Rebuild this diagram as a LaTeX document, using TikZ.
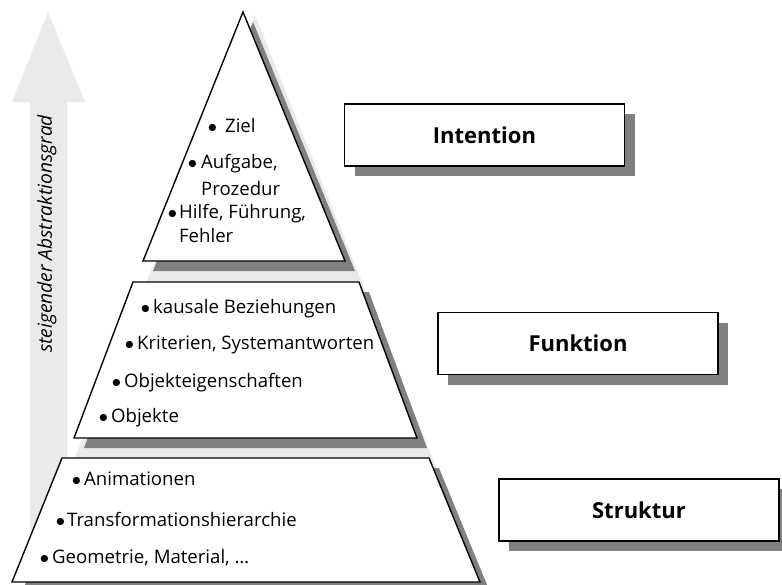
\documentclass[tikz,border=0pt]{standalone}
\usepackage{fontspec}
\setmainfont{Open Sans}
\usetikzlibrary{shadows}
\definecolor{paleGray}{HTML}{EAEAEA}
\definecolor{shadeGray}{HTML}{808080}
\newcommand\bul{$\bullet$}
\begin{document}
\begin{tikzpicture}[x=0.5pt,y=-0.5pt,
  dropgray/.style={drop shadow={shadow xshift=5pt,shadow yshift=-5pt,fill=shadeGray,opacity=1}},
  layer/.style={draw=black,fill=white,line width=0.7pt,dropgray},
  item/.style={anchor=base west,inner sep=0pt,align=left,font=\fontsize{9.3}{13}\selectfont},
  level/.style={draw=black,fill=white,line width=0.7pt,minimum width=140pt,minimum height=31pt,
    font=\fontsize{11}{13}\selectfont\bfseries,dropgray}]
\useasboundingbox (0,0) rectangle (782,584);
% Arrow on the left
\fill[paleGray] (30,584) -- (30,102) -- (12,102) -- (48,12) -- (85,102) -- (67,102) -- (67,584) -- cycle;
\node[rotate=90,font=\fontsize{9.6}{11}\selectfont\itshape] (abstr) at (47,234) {steigender Abstraktionsgrad};
% Pyramid behind the layers
\fill[paleGray] (255,15) -- (482,582) -- (24,582) -- cycle;
% Top layer
\draw[layer] (243,12) -- (345,261) -- (143,261) -- cycle;
\node[item] (ziel) at (207.5,132) {\bul\hspace{4pt}Ziel};
\node[item] (aufgabe) at (187.5,195) {\bul\hspace{2pt}Aufgabe,\\[0.5pt]\phantom{\bul\hspace{2pt}}Prozedur};
\node[item] (hilfe) at (167.5,242) {\bul\hspace{1pt}Hilfe, Führung,\\[-1pt]\phantom{\bul\hspace{1pt}}Fehler};
% Middle layer
\draw[layer] (133,282) -- (359,282) -- (417,438) -- (74,438) -- cycle;
\node[item] (kausal) at (140.5,313) {\bul\hspace{1.5pt}kausale Beziehungen};
\node[item] (kriterien) at (124.5,349) {\bul\hspace{1.5pt}Kriterien, Systemantworten};
\node[item] (eigensch) at (111.5,387) {\bul\hspace{1.5pt}Objekteigenschaften};
\node[item] (objekte) at (98.5,422) {\bul\hspace{1.5pt}Objekte};
% Bottom layer
\draw[layer] (62,458) -- (429,458) -- (480,582) -- (12,582) -- cycle;
\node[item] (anim) at (71.5,485) {\bul\hspace{1.5pt}Animationen};
\node[item] (transf) at (55.5,526) {\bul\hspace{1pt}Transformationshierarchie};
\node[item] (geom) at (39.5,563) {\bul\hspace{1.5pt}Geometrie, Material, …};
% Level boxes
\node[level] (intention) at (484.5,135) {Intention};
\node[level] (funktion) at (578,343.5) {Funktion};
\node[level] (struktur) at (639,510) {Struktur};
\end{tikzpicture}
\end{document}
